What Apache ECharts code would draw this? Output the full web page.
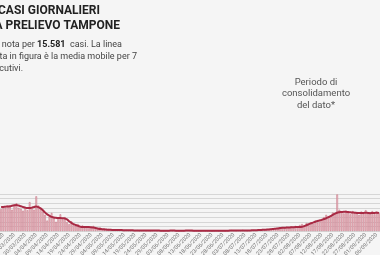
<!DOCTYPE html>
<html>
<head>
<meta charset="utf-8">
<script src="https://cdn.jsdelivr.net/npm/echarts@6/dist/echarts.min.js"></script>
<style>
  html, body { margin: 0; padding: 0; background: #f5f5f5; }
  #main { width: 380px; height: 255px; }
</style>
</head>
<body>
<div id="main"></div>
<script>
// primo giorno visibile e passo delle etichette
var startDate = '2020-03-19';
var labelEvery = 5;

// casi giornalieri per data prelievo (stimati dal grafico)
var casi = [
  95, 102, 98, 110, 105, 92, 115, 120, 100, 96, 88, 104, 90, 125, 98, 92, 150,
  110, 95, 84, 70, 45, 62, 78, 55, 40, 58, 72, 50, 60, 38, 30, 42, 26, 22, 30, 18, 24, 15, 20,
  12, 18, 22, 14, 10, 16, 8, 12, 6, 9, 5, 7, 4, 6, 3, 5, 2, 4, 3, 2,
  3, 2, 4, 1, 2, 3, 1, 2, 0, 2, 3, 1, 2, 1, 0, 2, 1, 3, 2, 1, 1, 0, 2, 1, 2, 3, 1, 0, 1, 2,
  1, 0, 2, 1, 1, 2, 0, 1, 3, 1, 2, 1, 0, 2, 1, 4, 2, 1, 3, 2, 5, 2, 1, 3, 2,
  4, 3, 6, 5, 8, 7, 5, 9, 10, 8, 12,
  14, 11, 16, 13, 18, 15, 20, 17, 22, 19,
  26, 30, 24, 34, 28, 38, 32, 44, 36, 48,
  52, 60, 70, 58, 66, 80, 74,
  158,
  92, 84, 76, 88, 80, 72, 86, 78, 82, 70, 84, 76, 90, 74, 80, 86, 72, 84, 78
];

// media mobile 7 giorni
var media = [
  104, 104, 105, 106, 107, 109, 111, 112, 110, 107, 104, 101, 99, 99, 101, 104, 106,
  103, 98, 90, 80, 72, 66, 61, 58, 57, 56, 56, 55, 54, 50, 42, 35, 30, 26, 22, 19, 17, 17, 17,
  17, 16, 15, 13, 11, 9, 8, 7, 6, 5, 5, 4, 4, 4, 4, 4, 3, 3, 3, 3,
  3, 2, 2, 2, 2, 2, 2, 2, 2, 2, 2, 2, 2, 1, 1, 1, 1, 2, 2, 2, 1, 1, 1, 1, 2, 2, 2, 2, 1, 1,
  1, 1, 1, 1, 1, 1, 1, 1, 1, 1, 1, 1, 1, 1, 2, 2, 2, 2, 2, 2, 2, 2, 2, 2, 3,
  3, 3, 4, 4, 5, 5, 6, 7, 8, 9, 10,
  11, 13, 14, 14, 15, 15, 16, 16, 17, 17,
  17, 18, 21, 25, 29, 33, 36, 40, 43, 46,
  48, 52, 55, 60, 64, 70, 75,
  79,
  81, 82, 83, 83, 82, 81, 80, 79, 78, 78, 78, 78, 79, 78, 77, 78, 78, 79, 78
];

var yMax = 160;
var yStep = 20;

function pad(n) { return n < 10 ? '0' + n : '' + n; }
var giorni = [];
var d0 = new Date(startDate + 'T12:00:00');
for (var i = 0; i < casi.length; i++) {
  var d = new Date(d0.getTime() + i * 86400000);
  giorni.push(pad(d.getDate()) + '/' + pad(d.getMonth() + 1) + '/' + d.getFullYear());
}

var chart = echarts.init(document.getElementById('main'));
var option = {
  backgroundColor: '#f5f5f5',
  animation: false,
  grid: { left: 0, right: 0, top: 194, bottom: 24, containLabel: false, outerBoundsMode: 'none' },
  xAxis: {
    type: 'category',
    data: giorni,
    axisLine: { show: false },
    axisTick: { show: false },
    axisLabel: {
      rotate: 45,
      fontSize: 5.5,
      color: '#7a7a7a',
      fontFamily: 'Roboto',
      margin: 3,
      interval: function (idx) { return idx % labelEvery === 1; }
    }
  },
  yAxis: {
    type: 'value',
    min: 0,
    max: yMax,
    interval: yStep,
    axisLabel: { show: false },
    axisLine: { show: false },
    splitLine: { lineStyle: { color: '#d6d6d6', width: 1 } }
  },
  series: [
    {
      type: 'bar',
      data: casi,
      barCategoryGap: '25%',
      itemStyle: {
        color: '#ecc4ca',
        borderColor: '#c46a7c',
        borderWidth: 0.5
      }
    },
    {
      type: 'line',
      data: media,
      smooth: true,
      symbol: 'none',
      lineStyle: { color: '#a82a44', width: 2 }
    }
  ],
  graphic: [
    {
      type: 'text', x: 100, y: 11,
      style: { text: 'NUOVI CASI GIORNALIERI', fill: '#222', font: 'bold 12px Roboto', textAlign: 'right', textVerticalAlign: 'middle' }
    },
    {
      type: 'text', x: 120, y: 25.5,
      style: { text: 'PER DATA PRELIEVO TAMPONE', fill: '#222', font: 'bold 12px Roboto', textAlign: 'right', textVerticalAlign: 'middle' }
    },
    {
      type: 'text', x: 122, y: 44.5,
      style: {
        text: '{n|La data di prelievo è nota per }{b|15.581}{n|  casi. La linea}',
        textAlign: 'right', textVerticalAlign: 'middle',
        rich: {
          n: { fill: '#444', font: '9px Roboto' },
          b: { fill: '#222', font: 'bold 9px Roboto' }
        }
      }
    },
    {
      type: 'text', x: 137, y: 56.8,
      style: { text: 'riportata in figura è la media mobile per 7', fill: '#444', font: '9px Roboto', textAlign: 'right', textVerticalAlign: 'middle' }
    },
    {
      type: 'text', x: 23, y: 69.2,
      style: { text: 'giorni consecutivi.', fill: '#444', font: '9px Roboto', textAlign: 'right', textVerticalAlign: 'middle' }
    },
    {
      type: 'text', x: 316, y: 94,
      style: {
        text: 'Periodo di\nconsolidamento\ndel dato*',
        fill: '#555', font: '9.5px Roboto', lineHeight: 11.5,
        textAlign: 'center', textVerticalAlign: 'middle'
      }
    }
  ]
};
chart.setOption(option);
</script>
</body>
</html>
